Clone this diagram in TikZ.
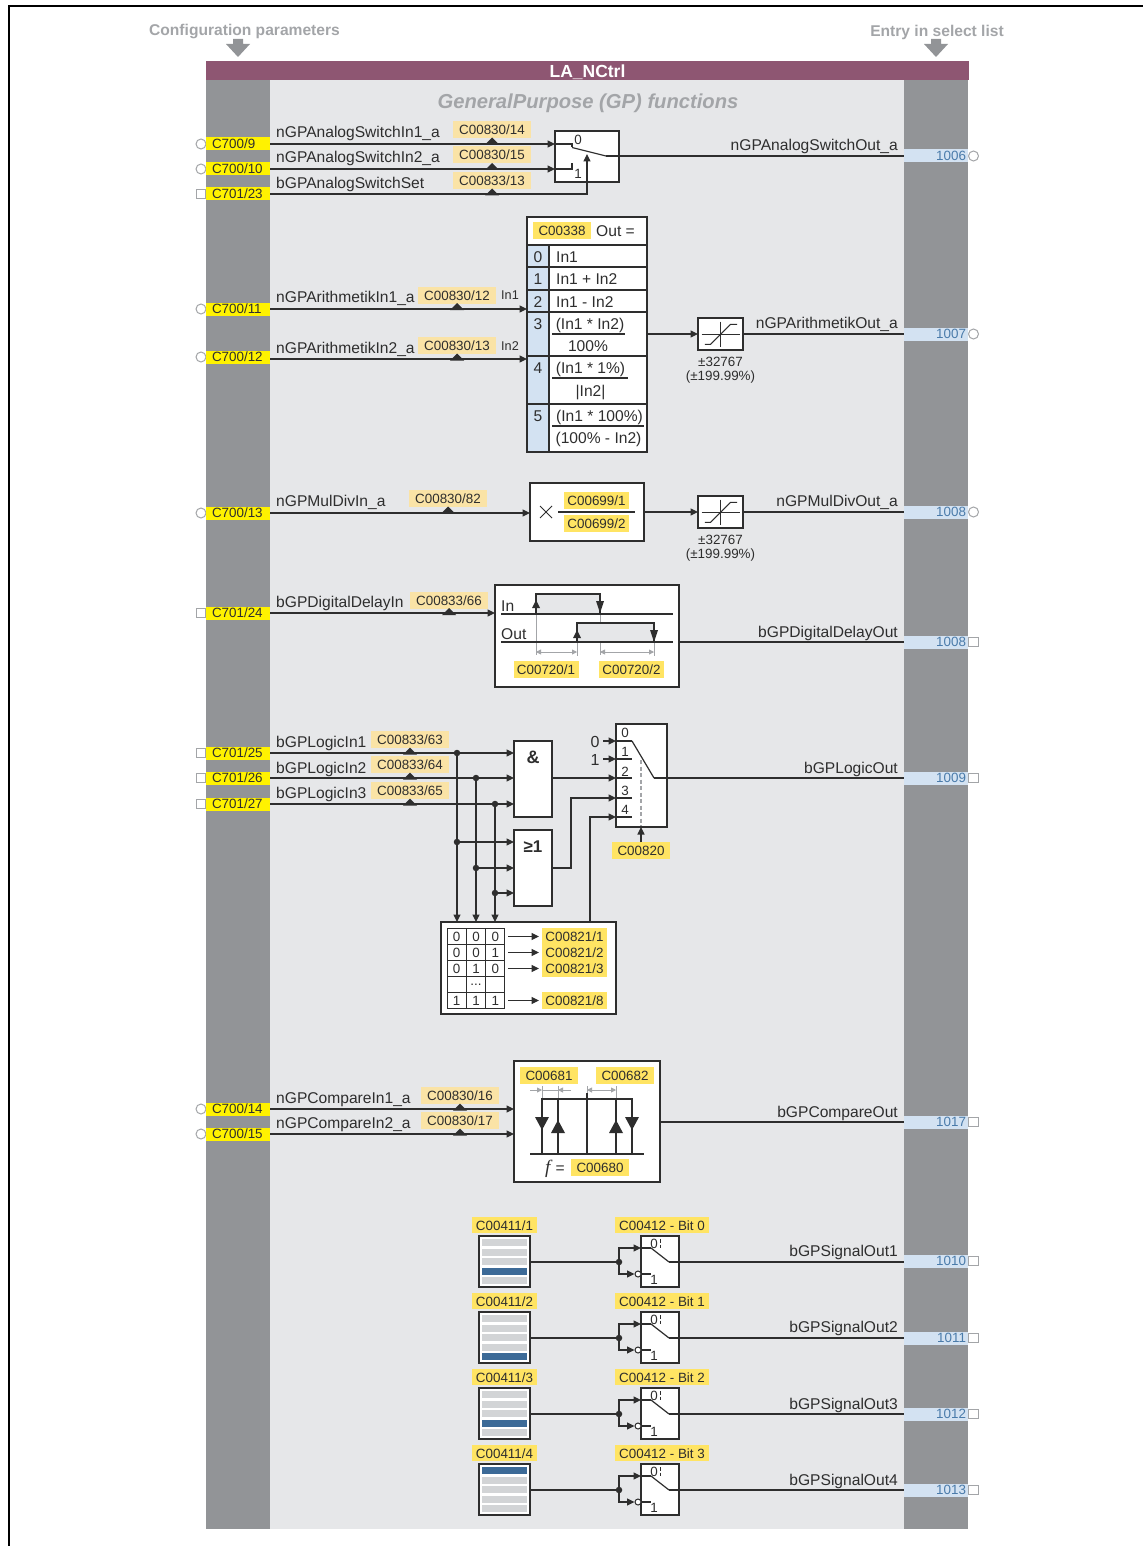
\documentclass[tikz,border=0pt]{standalone}
\usepackage{fontspec}
\setmainfont{Liberation Sans}
\newfontfamily\formulaserif{Liberation Serif}
\usetikzlibrary{arrows.meta}

\definecolor{laPlum}{HTML}{8E5672}
\definecolor{laBar}{HTML}{929497}
\definecolor{laPanel}{HTML}{E6E7E9}
\definecolor{laTan}{HTML}{FAE3A6}
\definecolor{laParam}{HTML}{FFE463}
\definecolor{laYellow}{HTML}{FFF200}
\definecolor{laPale}{HTML}{D3E2F2}
\definecolor{laBlue}{HTML}{4A7BAA}
\definecolor{laStripe}{HTML}{3C6A97}
\definecolor{laLight}{HTML}{D2D4D6}
\definecolor{laLine}{HTML}{2E2E2E}
\definecolor{laGrey}{HTML}{A3A5A8}

\newcommand{\sigfont}{\fontsize{15.6}{18}\selectfont}
\newcommand{\tagfont}{\fontsize{13.4}{15}\selectfont}
\newcommand{\spike}[4]{\fill[laLine] (#1,#2) -- ++(-#3,#4) -- ++(2*#3,0) -- cycle;}

\tikzset{
  wire/.style={draw=laLine,line width=1.2pt},
  feed/.style={wire,-{Triangle[length=7.5pt,width=7pt]}},
  dimline/.style={draw=laGrey,line width=0.9pt},
  dimtip/.style={dimline,-{Triangle[length=5pt,width=5pt]}},
  blockbox/.style={draw=laLine,fill=white,line width=1.3pt,inner sep=0pt,outer sep=0pt},
  lefttag/.style={fill=laYellow,text width=64pt,minimum height=13pt,inner sep=0pt,outer sep=0pt,align=left,
    text height=11pt,text depth=2pt,font=\tagfont,execute at begin node={\hspace*{6pt}}},
  righttag/.style={fill=laPale,text=laBlue,text width=64pt,minimum height=13pt,inner sep=0pt,outer sep=0pt,align=right,
    text height=11pt,text depth=2pt,font=\tagfont,execute at end node={\hspace*{2pt}}},
  roundport/.style={circle,draw=laGrey,fill=white,line width=1pt,minimum size=10pt,inner sep=0pt},
  squareport/.style={rectangle,draw=laGrey,fill=white,line width=1pt,minimum size=9.5pt,inner sep=0pt},
  tantag/.style={fill=laTan,minimum width=78pt,inner sep=0pt,outer sep=0pt,text height=13.5pt,text depth=3.5pt,font=\tagfont},
  paramtag/.style={fill=laParam,minimum width=65pt,inner sep=0pt,outer sep=0pt,text height=13.5pt,text depth=3pt,font=\tagfont},
  signame/.style={inner sep=0pt,font=\sigfont},
  small/.style={inner sep=0pt,font=\tagfont},
  junction/.style={circle,fill=laLine,minimum size=6.5pt,inner sep=0pt,outer sep=0pt},
  cell/.style={draw=laLine,fill=white,line width=1pt,minimum width=19.3pt,minimum height=16pt,inner sep=0pt,font=\tagfont},
}

\begin{document}
\begin{tikzpicture}[x=1pt,y=-1pt,text=laLine]
  \useasboundingbox (0,0) rectangle (1144,1546);
  \draw[black,line width=2pt] (9,1546) -- (9,6) -- (1143,6);

  % headers and panels
  \node[inner sep=0pt,text=laGrey,font=\bfseries\fontsize{15.6}{17}\selectfont] (cfgHead) at (244.5,32) {Configuration parameters};
  \node[inner sep=0pt,text=laGrey,font=\bfseries\fontsize{15.6}{17}\selectfont] (listHead) at (937,32) {Entry in select list};
  \foreach \xx in {238,936}{
    \fill[laBar] (\xx-5,39) -- (\xx+5,39) -- (\xx+5,44) -- (\xx+12,44) -- (\xx,57) -- (\xx-12,44) -- (\xx-5,44) -- cycle;
  }
  \path[fill=laPanel] (270,80) rectangle (904,1529);
  \path[fill=laBar] (206,80) rectangle (270,1529);
  \path[fill=laBar] (904,80) rectangle (968,1529);
  \path[fill=laPlum] (206,61) rectangle (969,80);
  \node[inner sep=0pt,text=white,font=\bfseries\fontsize{17.5}{19}\selectfont] (titleBar) at (587.5,72) {LA\_NCtrl};
  \node[inner sep=0pt,text=laGrey,font=\bfseries\itshape\fontsize{20.2}{22}\selectfont] (gpHead) at (588,103.5) {GeneralPurpose (GP) functions};

  % select list entries
  \foreach \tagname/\txt/\yy/\kind in {
    anaA/{C700/9}/144/roundport, anaB/{C700/10}/169/roundport, digA/{C701/23}/194/squareport,
    anaC/{C700/11}/309/roundport, anaD/{C700/12}/357/roundport, anaE/{C700/13}/513/roundport,
    digB/{C701/24}/613/squareport, digC/{C701/25}/753/squareport, digD/{C701/26}/778/squareport,
    digE/{C701/27}/804/squareport, anaF/{C700/14}/1109/roundport, anaG/{C700/15}/1134/roundport}{
    \node[\kind] (\tagname p) at (201,\yy) {};
    \node[lefttag] (\tagname) at (238,\yy) {\txt};
  }
  \foreach \tagname/\txt/\yy/\kind in {
    outA/1006/156/roundport, outB/1007/334/roundport, outC/1008/512/roundport, outD/1008/642/squareport,
    outE/1009/778/squareport, outF/1017/1122/squareport, sig1/1010/1261/squareport, sig2/1011/1338/squareport,
    sig3/1012/1414/squareport, sig4/1013/1490/squareport}{
    \node[\kind] (\tagname p) at (973.5,\yy) {};
    \node[righttag] (\tagname) at (936,\yy) {\txt};
  }

  % signal names
  \foreach \nm/\txt/\yy in {
    inA/nGPAnalogSwitchIn1\_a/138, inB/nGPAnalogSwitchIn2\_a/163, inC/bGPAnalogSwitchSet/189,
    inD/nGPArithmetikIn1\_a/302, inE/nGPArithmetikIn2\_a/353, inF/nGPMulDivIn\_a/506,
    inG/bGPDigitalDelayIn/607, inH/bGPLogicIn1/747, inI/bGPLogicIn2/773, inJ/bGPLogicIn3/798,
    inK/nGPCompareIn1\_a/1103, inL/nGPCompareIn2\_a/1128}{
    \node[signame,anchor=base west] (\nm) at (276,\yy) {\txt};
  }
  \foreach \nm/\txt/\yy in {
    exA/nGPAnalogSwitchOut\_a/151, exB/nGPArithmetikOut\_a/328, exC/nGPMulDivOut\_a/506,
    exD/bGPDigitalDelayOut/637, exE/bGPLogicOut/773, exF/bGPCompareOut/1117,
    exG/bGPSignalOut1/1256, exH/bGPSignalOut2/1332, exI/bGPSignalOut3/1409, exJ/bGPSignalOut4/1485}{
    \node[signame,anchor=base east] (\nm) at (898,\yy) {\txt};
  }

  % parameter tags with their markers
  \foreach \tagname/\txt/\xx/\yy in {
    tanA/{C00830/14}/492/129.5, tanB/{C00830/15}/492/155, tanC/{C00833/13}/492/180.5,
    tanD/{C00830/12}/457/295, tanE/{C00830/13}/457/345.5, tanF/{C00830/82}/448/498.5,
    tanG/{C00833/66}/449/600, tanH/{C00833/63}/410/739.5, tanI/{C00833/64}/410/764.5,
    tanJ/{C00833/65}/410/790.5, tanK/{C00830/16}/460/1095.5, tanL/{C00830/17}/460/1120.5}{
    \node[tantag] (\tagname) at (\xx,\yy) {\txt};
    \fill[laLine] ([yshift=0.5pt]\tagname.south) -- ++(-7,7) -- ++(14,0) -- cycle;
  }

  % analog switch
  \node[blockbox,minimum width=64pt,minimum height=51pt] (swA) at (587,156.5) {};
  \coordinate (swAup) at (572,144);
  \coordinate (swAlo) at (572,169);
  \coordinate (swArm) at (606,156);
  \coordinate (swCtl) at (587,154);
  \draw[feed] (anaA.east) -- (swA.west |- anaA.east);
  \draw[feed] (anaB.east) -- (swA.west |- anaB.east);
  \draw[wire] (swA.west |- swAup) -- (swAup) -- ++(0,3);
  \draw[wire] (swA.west |- swAlo) -- (swAlo) -- ++(0,-6);
  \draw[wire] (572,147.5) -- (swArm);
  \draw[wire] (swArm) -- (swArm -| outA.west);
  \draw[feed] (digA.east) -| (swCtl);
  \node[small] (swZero) at (578,140) {0};
  \node[small] (swOne) at (578,174) {1};

  % arithmetic table
  \node[blockbox,minimum width=120pt,minimum height=235pt] (opTable) at (587,334.5) {};
  \path[fill=laPale] (527.6,245) rectangle (549,451.4);
  \draw[wire] (527,245) -- (647,245);
  \foreach \yy in {267,290,312,356,404}{
    \draw[wire] (527,\yy) -- (647,\yy);
  }
  \draw[wire] (549,245) -- (549,452);
  \node[paramtag,minimum width=58pt] (tagOp) at (562,230.5) {C00338};
  \node[signame,anchor=base west] (opOut) at (596,236.5) {Out =};
  \foreach \nm/\txt/\yy in {0/0/262,1/1/284,2/2/307,3/3/329,4/4/373,5/5/421}{
    \node[signame,anchor=base] (opNum\nm) at (538,\yy) {\txt};
  }
  \foreach \nm/\txt/\yy in {a/In1/262,b/In1 + In2/284,c/In1 - In2/307}{
    \node[signame,anchor=base west] (opRow\nm) at (556,\yy) {\txt};
  }
  \foreach \nm/\txt/\xx/\yy in {
    d/(In1 * In2)/590/329, e/100\%/588/351, f/(In1 * 1\%)/590.5/373, g/|In2|/590.5/396,
    h/(In1 * 100\%)/599.5/421, i/(100\% - In2)/598.5/443}{
    \node[signame,anchor=base] (opRow\nm) at (\xx,\yy) {\txt};
  }
  \draw[wire] (552,334) -- (625,334);
  \draw[wire] (552,378) -- (628,378);
  \draw[wire] (552,426) -- (644,426);
  \node[small,anchor=base west,font=\fontsize{12.7}{15}\selectfont] (opInA) at (501,299) {In1};
  \node[small,anchor=base west,font=\fontsize{12.7}{15}\selectfont] (opInB) at (501,350) {In2};
  \draw[feed] (anaC.east) -- (opTable.west |- anaC.east);
  \draw[feed] ([yshift=-2pt]anaD.east) -- (opTable.west |- 270,359);

  % limiters
  \node[blockbox,minimum width=45pt,minimum height=32pt] (limA) at (720.5,334) {};
  \node[blockbox,minimum width=45pt,minimum height=32pt] (limB) at (720.5,512) {};
  \foreach \lim in {limA,limB}{
    \begin{scope}[shift={(\lim.center)}]
      \draw[wire,line width=1pt] (-19,0) -- (19,0);
      \draw[wire,line width=1pt] (0,-12.5) -- (0,12.5);
      \draw[wire,line width=1pt] (-15.7,10.3) -- (-10,10.3) -- (10,-9.7) -- (16.7,-9.7);
    \end{scope}
  }
  \draw[feed] (opTable.east |- limA.west) -- (limA.west);
  \draw[wire] (limA.east) -- (limA.east -| outB.west);
  \node[small] (limAa) at (720.5,362) {±32767};
  \node[small] (limAb) at (720.5,377) {(±199.99\%)};
  \node[small] (limBa) at (720.5,540) {±32767};
  \node[small] (limBb) at (720.5,555) {(±199.99\%)};

  % mul/div
  \node[blockbox,minimum width=114pt,minimum height=58pt] (mulDiv) at (587,512) {};
  \draw[wire,line width=1pt] (540,506) -- (552,518);
  \draw[wire,line width=1pt] (540,518) -- (552,506);
  \draw[wire] (558,512) -- (635,512);
  \node[paramtag] (tagMulA) at (596.5,500.5) {C00699/1};
  \node[paramtag] (tagMulB) at (596.5,523.5) {C00699/2};
  \draw[feed] (anaE.east) -- (mulDiv.west |- anaE.east);
  \draw[feed] (mulDiv.east) -- (limB.west);
  \draw[wire] (limB.east) -- (limB.east -| outC.west);

  % digital delay
  \node[blockbox,minimum width=184pt,minimum height=102pt] (delayBox) at (587,636) {};
  \path[fill=laPanel] (536,594) rectangle (600,614);
  \path[fill=laPanel] (577,623) rectangle (654,642);
  \draw[dimline] (536,614) -- (536,655);
  \draw[dimline] (600,614) -- (600,623);
  \draw[dimline] (600,642) -- (600,655);
  \draw[dimline] (577,642) -- (577,656);
  \draw[dimline] (654,642) -- (654,656);
  \draw[wire] (501,614) -- (673,614);
  \draw[wire] (501,642) -- (673,642);
  \draw[wire] (536,614) -- (536,594) -- (600,594) -- (600,614);
  \draw[wire] (577,642) -- (577,623) -- (654,623) -- (654,642);
  \spike{536}{600}{4}{8}
  \spike{600}{613}{4}{-12}
  \spike{577}{630}{4}{8}
  \spike{654}{642}{4}{-12}
  \draw[dimline,{Triangle[length=5pt,width=5pt]}-{Triangle[length=5pt,width=5pt]}] (536,652) -- (577,652);
  \draw[dimline,{Triangle[length=5pt,width=5pt]}-{Triangle[length=5pt,width=5pt]}] (600,652) -- (654,652);
  \node[signame,anchor=base west] (delayIn) at (501,611) {In};
  \node[signame,anchor=base west] (delayOut) at (501,639) {Out};
  \node[paramtag] (tagDelA) at (546,669.5) {C00720/1};
  \node[paramtag] (tagDelB) at (631.5,669.5) {C00720/2};
  \draw[feed] (digB.east) -- (delayBox.west |- digB.east);
  \draw[wire] (delayBox.east |- outD.west) -- (outD.west);

  % logic
  \node[blockbox,minimum width=38pt,minimum height=76pt] (andBox) at (533,779) {};
  \node[blockbox,minimum width=38pt,minimum height=76pt] (orBox) at (533,868) {};
  \node[inner sep=0pt,font=\bfseries\fontsize{18}{20}\selectfont] (andSign) at (533,757) {\&};
  \node[inner sep=0pt,font=\bfseries\fontsize{17}{20}\selectfont] (orSign) at (533,847) {≥1};
  \node[blockbox,minimum width=51pt,minimum height=103pt] (muxBox) at (641.5,775.5) {};
  \node[blockbox,minimum width=175pt,minimum height=92pt] (truthBox) at (528.5,968) {};
  \node[paramtag,minimum width=58pt] (sel820) at (641,850.5) {C00820};

  \node[junction] (jA) at (457,753) {};
  \node[junction] (jB) at (476,778) {};
  \node[junction] (jC) at (495,804) {};
  \node[junction] (jD) at (457,842) {};
  \node[junction] (jE) at (476,868) {};
  \node[junction] (jF) at (495,893) {};
  \draw[feed] (digC.east) -- (andBox.west |- digC.east);
  \draw[feed] (digD.east) -- (andBox.west |- digD.east);
  \draw[feed] (digE.east) -- (andBox.west |- digE.east);
  \foreach \ja/\jb in {jA/jD,jB/jE,jC/jF}{
    \draw[feed] (\ja) -- (truthBox.north -| \ja);
    \draw[feed] (\jb) -- (orBox.west |- \jb);
  }

  \foreach \nm/\yy/\ty in {0/741/733,1/759/752,2/778/772,3/798/791,4/817/810}{
    \coordinate (mux\nm) at (632,\yy);
    \draw[wire] (muxBox.west |- mux\nm) -- (mux\nm);
    \node[small] (muxLab\nm) at (625,\ty) {\nm};
  }
  \draw[laGrey,line width=1.1pt,dash pattern=on 4pt off 2.5pt] (641,760) -- (641,826);
  \coordinate (muxArm) at (654,778);
  \draw[wire] (mux0) -- (muxArm);
  \draw[wire] (muxArm) -- (muxArm -| outE.west);
  \node[inner sep=0pt,inner xsep=3.5pt,font=\fontsize{16}{18}\selectfont] (muxZero) at (595,742) {0};
  \node[inner sep=0pt,inner xsep=3.5pt,font=\fontsize{16}{18}\selectfont] (muxOne) at (595,760) {1};
  \draw[feed] (muxZero.east |- mux0) -- (muxBox.west |- mux0);
  \draw[feed] (muxOne.east |- mux1) -- (muxBox.west |- mux1);
  \draw[feed] (andBox.east |- digD.east) -- (muxBox.west |- digD.east);
  \coordinate (orKnee) at (571,868);
  \draw[feed] (orBox.east |- orKnee) -- (orKnee) |- (muxBox.west |- mux3);
  \coordinate (truthTap) at (590,922);
  \draw[feed] (truthTap) |- (muxBox.west |- mux4);
  \draw[feed] (sel820.north) -- (muxBox.south -| sel820.north);

  % truth table
  \foreach \rowid/\yy/\ca/\cb/\cc in {1/936.5/0/0/0,2/952.5/0/0/1,3/968.5/0/1/0,4/984.5/{}/{}/{},5/1000.5/1/1/1}{
    \node[cell] (cell\rowid1) at (456.7,\yy) {\ca};
    \node[cell] (cell\rowid2) at (476,\yy) {\cb};
    \node[cell] (cell\rowid3) at (495.3,\yy) {\cc};
  }
  \node[small] (cellDots) at (cell42) {...};
  \foreach \rowid/\yy/\txt in {1/936.5/{C00821/1},2/952.5/{C00821/2},3/968.5/{C00821/3},5/1000.5/{C00821/8}}{
    \node[paramtag,minimum height=16.5pt,text height=13pt,text depth=3.5pt] (tagTruth\rowid) at (574.5,\yy) {\txt};
    \draw[feed] ([xshift=3pt]cell\rowid3.east) -- ([xshift=-3pt]tagTruth\rowid.west);
  }

  % compare
  \node[blockbox,minimum width=146pt,minimum height=121pt] (cmpBox) at (587,1121.5) {};
  \node[paramtag,minimum width=58pt] (tagCmpA) at (549,1075.5) {C00681};
  \node[paramtag,minimum width=58pt] (tagCmpB) at (625,1075.5) {C00682};
  \draw[dimline] (542,1086) -- (542,1099);
  \draw[dimline] (558,1086) -- (558,1099);
  \draw[dimline] (587,1086) -- (587,1093);
  \draw[dimline] (616,1086) -- (616,1099);
  \draw[dimline] (542,1090) -- (558,1090);
  \draw[dimtip] (530,1090) -- (542,1090);
  \draw[dimtip] (571,1090) -- (558,1090);
  \draw[dimline,{Triangle[length=5pt,width=5pt]}-{Triangle[length=5pt,width=5pt]}] (587,1090) -- (616,1090);
  \draw[wire] (542,1154) -- (542,1099) -- (632,1099) -- (632,1154);
  \draw[wire] (558,1099) -- (558,1154);
  \draw[wire] (587,1093) -- (587,1154);
  \draw[wire] (616,1099) -- (616,1154);
  \draw[wire] (530,1154) -- (644,1154);
  \spike{542}{1130}{7}{-13}
  \spike{558}{1120}{7}{13}
  \spike{616}{1120}{7}{13}
  \spike{632}{1130}{7}{-13}
  \node[signame,anchor=base west] (cmpF) at (545,1173) {{\formulaserif\itshape\fontsize{19}{20}\selectfont f}\,\,=};
  \node[paramtag,minimum width=58pt] (tagCmpC) at (600,1167.5) {C00680};
  \draw[feed] (anaF.east) -- (cmpBox.west |- anaF.east);
  \draw[feed] (anaG.east) -- (cmpBox.west |- anaG.east);
  \draw[wire] (cmpBox.east |- outF.west) -- (outF.west);

  % signal selectors
  \foreach \rowid/\off/\act/\bit in {1/0/32/0,2/76/41/1,3/152/32/2,4/228/3/3}{
    \begin{scope}[shift={(0,\off)}]
      \node[paramtag] (tagList\rowid) at (504.5,1225) {C00411/\rowid};
      \node[paramtag,minimum width=94pt] (tagBit\rowid) at (662,1225) {C00412 - Bit \bit};
      \node[blockbox,minimum width=51pt,minimum height=51pt] (list\rowid) at (504.5,1261.5) {};
      \foreach \st in {3,13,22,32,41}{
        \path[fill=laLight] (482,1236+\st) rectangle (527,1243+\st);
      }
      \path[fill=laStripe] (482,1236+\act) rectangle (527,1243+\act);
      \node[blockbox,minimum width=38pt,minimum height=51pt] (swBit\rowid) at (660,1261.5) {};
      \node[junction] (jct\rowid) at (619,1262) {};
      \node[circle,draw=laLine,fill=white,line width=1pt,minimum size=6pt,inner sep=0pt] (inv\rowid) at (638,1274) {};
      \coordinate (bitUp\rowid) at (651,1248);
      \coordinate (bitLo\rowid) at (651,1274);
      \coordinate (bitArm\rowid) at (669,1262);
      \draw[wire] (list\rowid.east |- jct\rowid) -- (jct\rowid);
      \draw[feed] (jct\rowid) |- (swBit\rowid.west |- bitUp\rowid);
      \draw[feed] (jct\rowid) |- (inv\rowid.west);
      \draw[wire] (swBit\rowid.west |- bitUp\rowid) -- (bitUp\rowid);
      \draw[wire] (bitUp\rowid) -- (bitArm\rowid);
      \draw[wire] (bitArm\rowid) -- (bitArm\rowid -| sig\rowid.west);
      \draw[wire] (inv\rowid.east) -- (bitLo\rowid);
      \draw[wire,line width=1pt,dash pattern=on 3.5pt off 2pt] (660,1239) -- (660,1249);
      \node[small] (bitZero\rowid) at (654,1243.5) {0};
      \node[small] (bitOne\rowid) at (654,1279.5) {1};
    \end{scope}
  }
\end{tikzpicture}
\end{document}
